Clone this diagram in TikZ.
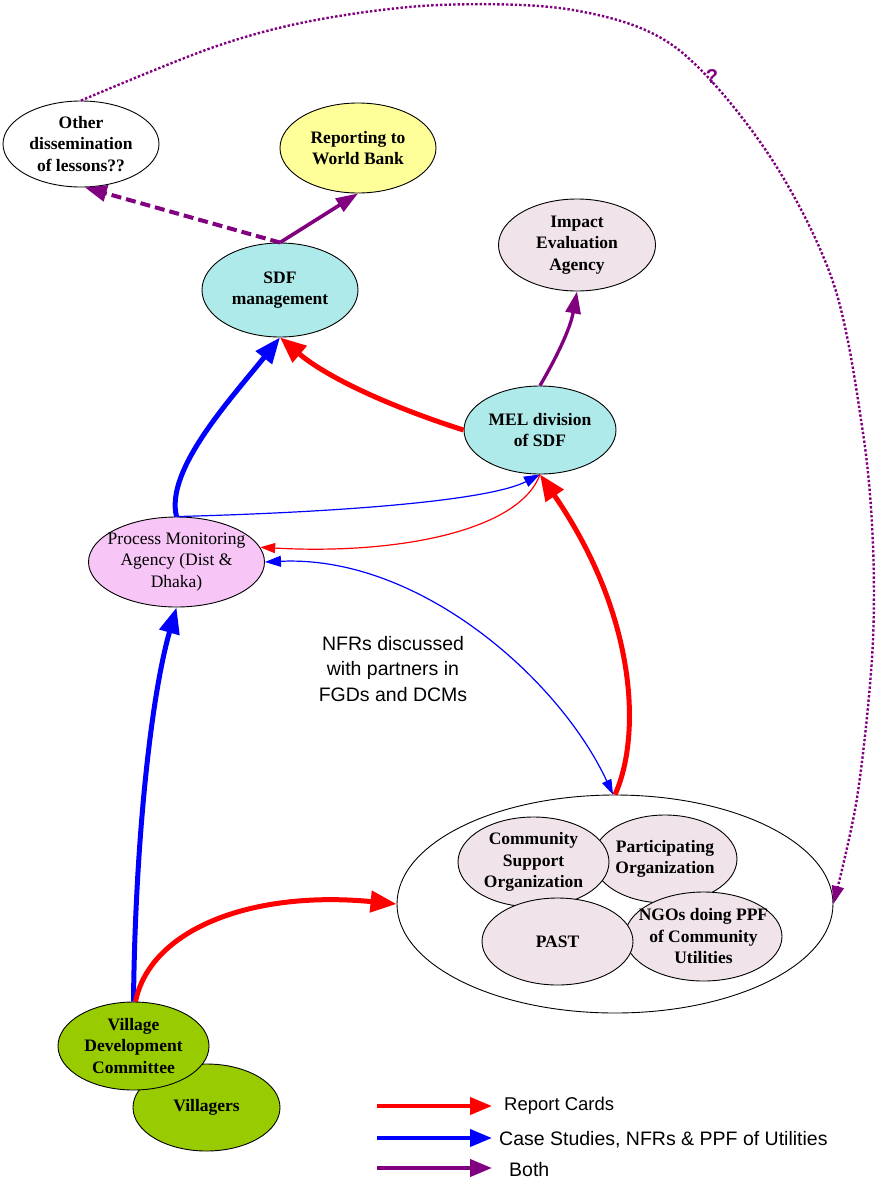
\documentclass[tikz,border=0pt]{standalone}
\usepackage{fontspec}
\usetikzlibrary{shapes.geometric,arrows.meta}
\newfontfamily\nodeserif{Liberation Serif}
\newfontfamily\nodesans{Liberation Sans}
\newcommand\nbf{\nodeserif\bfseries\fontsize{17.5}{21.5}\selectfont}
\newcommand\nrm{\nodeserif\fontsize{17.5}{21.5}\selectfont}
\newcommand\nsf[1]{\nodesans\fontsize{#1}{25.5}\selectfont}
\definecolor{linkpurple}{RGB}{128,0,128}
\definecolor{sdfcyan}{RGB}{175,234,234}
\definecolor{pmapink}{RGB}{247,198,247}
\definecolor{partgrey}{RGB}{240,228,234}
\definecolor{wbyellow}{RGB}{255,255,153}
\definecolor{vdcgreen}{RGB}{153,204,0}

\begin{document}
\begin{tikzpicture}[x=1pt,y=-1pt,
  ell/.style={ellipse, draw=black, line width=0.9pt, inner sep=0pt},
  bl/.style={font=\nbf, align=center},
  rl/.style={font=\nrm, align=center},
  redthick/.style={draw=red, line width=5pt, -{Triangle[length=26pt,width=21pt]}},
  bluethick/.style={draw=blue, line width=5pt, -{Triangle[length=26pt,width=20pt]}},
  redthin/.style={draw=red, line width=1.2pt, -{Triangle[length=15pt,width=10pt]}},
  bluethin/.style={draw=blue, line width=1.2pt, -{Triangle[length=16pt,width=11pt]}},
  bluetwo/.style={draw=blue, line width=1.2pt, {Triangle[length=16pt,width=11pt]}-{Triangle[length=15pt,width=10pt]}},
  purplesolid/.style={draw=linkpurple, line width=3.6pt, -{Triangle[length=22pt,width=15pt]}},
  purpledash/.style={draw=linkpurple, line width=4pt, dash pattern=on 10pt off 5pt, -{Triangle[length=22pt,width=16pt]}},
  purpledot/.style={draw=linkpurple, line width=2.4pt, dash pattern=on 2.4pt off 2pt, -{Triangle[length=18pt,width=12pt]}},
  legline/.style={line width=4pt, -{Triangle[length=22pt,width=17pt]}},
]
\useasboundingbox (0,0) rectangle (877,1183);
\fill[white] (0,0) rectangle (877,1183);

% upper tier
\node[ell, fill=white, minimum width=156, minimum height=86,
      label={[bl]center:{Other\\dissemination\\of lessons??}}] (oth) at (81,144) {};
\node[ell, fill=wbyellow, minimum width=156, minimum height=90,
      label={[bl]center:{Reporting to\\World Bank}}] (rep) at (358,148) {};
\node[ell, fill=sdfcyan, minimum width=156, minimum height=94,
      label={[bl]center:{SDF\\management}}] (sdf) at (280,290) {};
\node[ell, fill=partgrey, minimum width=157, minimum height=92,
      label={[bl]center:{Impact\\Evaluation\\Agency}}] (imp) at (577,245) {};
\node[ell, fill=sdfcyan, minimum width=152, minimum height=88,
      label={[bl]center:{MEL division\\of SDF}}] (mel) at (540,430) {};
\node[ell, fill=pmapink, minimum width=176, minimum height=90,
      label={[rl]center:{Process Monitoring\\Agency (Dist \&\\Dhaka)}}] (pma) at (176.5,562) {};

% partner cluster
\node[ell, fill=white, minimum width=436, minimum height=218] (big) at (615,904) {};
\node[ell, fill=partgrey, minimum width=144, minimum height=88,
      label={[bl]center:{Participating\\Organization}}] (po) at (665,859) {};
\node[ell, fill=partgrey, minimum width=151, minimum height=90,
      label={[bl]center:{Community\\Support\\Organization}}] (cso) at (533.5,862) {};
\node[ell, fill=partgrey, minimum width=157, minimum height=89,
      label={[bl]center:{NGOs doing PPF\\of Community\\Utilities}}] (ngo) at (703.5,936.5) {};
\node[ell, fill=partgrey, minimum width=151, minimum height=87,
      label={[bl]center:{PAST}}] (past) at (557.5,941.5) {};

% village level
\node[ell, fill=vdcgreen, minimum width=147, minimum height=87,
      label={[bl]center:{Villagers}}] (vil) at (206.5,1107.5) {};
\node[ell, fill=vdcgreen, minimum width=151, minimum height=88,
      label={[bl]center:{Village\\Development\\Committee}}] (vdc) at (133.5,1046) {};

% flows
\draw[purpledash] (sdf.north) -- (oth.-85);
\draw[purplesolid] (sdf.north) -- (rep.south);
\draw[purplesolid, line width=3.3pt] (mel.north) .. controls (555,360) and (570,330) .. (imp.south);
\draw[redthick] (mel.west) .. controls (400,410) and (330,380) .. (sdf.south);
\draw[bluethick] (pma.north) .. controls (165,470) and (230,400) .. (sdf.south);
\draw[bluethin] (pma.north) .. controls (350,512) and (490,500) .. (mel.south);
\draw[redthin] (mel.south) .. controls (520,530) and (400,555) .. (pma.10);
\draw[bluetwo] (pma.east) .. controls (420,555) and (560,680) .. ([xshift=-2pt]big.north);
\draw[redthick] (big.north) .. controls (640,740) and (640,620) .. (mel.south);
\draw[bluethick] (vdc.north) .. controls (135,850) and (150,700) .. (pma.south);
\draw[redthick] ([xshift=2pt]vdc.north) .. controls (150,930) and (250,890) .. (big.west);
\draw[purpledot] plot[smooth, tension=0.55] coordinates {(oth.north) (214,47) (316,20) (439,5) (573,10) (675,47) (767,152) (833,282) (863,433) (873,546) (872,658) (857,798) (big.east)};
\node[font={\nsf{20}\bfseries}, text=linkpurple, inner sep=1pt] (qm) at (712,77) {?};

\node[font={\nsf{19.5}}, align=center] (nfr) at (393,669) {NFRs discussed\\with partners in\\FGDs and DCMs};

% legend
\coordinate (lr0) at (377,1106);
\coordinate (lr1) at (492,1106);
\coordinate (lb0) at (377,1138);
\coordinate (lb1) at (492,1138);
\coordinate (lp0) at (377,1168);
\coordinate (lp1) at (492,1168);
\draw[legline, red] (lr0) -- (lr1);
\draw[legline, blue] (lb0) -- (lb1);
\draw[legline, linkpurple] (lp0) -- (lp1);
\node[anchor=west, inner sep=0pt, font={\nsf{18.5}}] (lrt) at (504,1106) {Report Cards};
\node[anchor=west, inner sep=0pt, font={\nsf{19.5}}] (lbt) at (499,1140) {Case Studies, NFRs \& PPF of Utilities};
\node[anchor=west, inner sep=0pt, font={\nsf{19.5}}] (lpt) at (509,1170) {Both};
\end{tikzpicture}
\end{document}
